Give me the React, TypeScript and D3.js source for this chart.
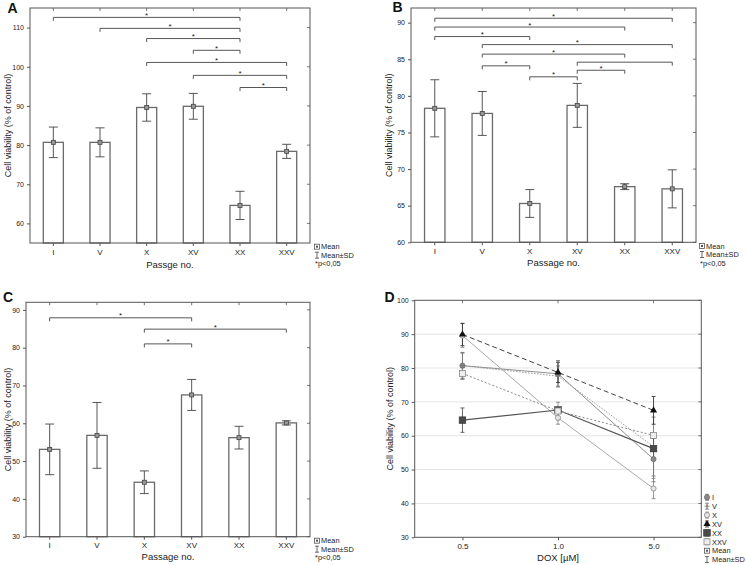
"use client"

import { useEffect, useRef } from "react"
import * as d3 from "d3"

const PASSAGES = ["I", "V", "X", "XV", "XX", "XXV"]
const DOSES = ["0.5", "1.0", "5.0"]

// A - 0.5 uM DOX
const meansA = [80.7, 80.7, 89.6, 89.9, 64.6, 78.4]
const sdsA = [3.9, 3.7, 3.5, 3.3, 3.6, 1.8]
// [from, to, bracket height, star shown]
const bracketsA: [number, number, number, boolean][] = [
  [0, 4, 112.6, true],
  [1, 4, 109.8, true],
  [2, 4, 107.2, true],
  [3, 4, 104.2, true],
  [2, 5, 101.1, true],
  [3, 5, 97.8, true],
  [4, 5, 94.7, true],
]

// B - 1.0 uM DOX
const meansB = [78.3, 77.6, 65.3, 78.7, 67.6, 67.3]
const sdsB = [3.9, 3.0, 1.9, 3.0, 0.4, 2.6]
const bracketsB: [number, number, number, boolean][] = [
  [0, 5, 90.6, true],
  [0, 4, 89.4, true],
  [0, 2, 88.1, true],
  [1, 5, 87.0, true],
  [1, 4, 85.7, true],
  [1, 2, 84.1, true],
  [3, 5, 84.6, false],
  [3, 4, 83.5, true],
  [2, 3, 82.6, true],
]

// C - 5.0 uM DOX
const meansC = [53.1, 56.8, 44.4, 67.5, 56.2, 60.1]
const sdsC = [6.7, 8.7, 3.0, 4.1, 3.0, 0.55]
const bracketsC: [number, number, number, boolean][] = [
  [0, 3, 87.9, true],
  [2, 5, 84.9, true],
  [2, 3, 81.0, true],
]

const FONT = "'Liberation Sans', Arial, sans-serif"
const INK = "#222"
const AXIS = "#555"
const LEGEND_FONT = 7.4

type Sel = d3.Selection<SVGGElement, unknown, null, undefined>

interface BarCfg {
  letter: string
  letterPos: [number, number]
  box: [number, number, number, number] // x0, y0, x1, y1
  yDomain: [number, number]
  yTicks: number[]
  means: number[]
  sds: number[]
  brackets: [number, number, number, boolean][]
  yTitleX: number
  xTitle: string
  xTitleY: number
  legendPos: [number, number]
}

function drawMeanIcon(g: Sel, x: number, y: number) {
  g.append("rect").attr("x", x - 2.5).attr("y", y - 2.5).attr("width", 5).attr("height", 5)
    .attr("fill", "#fff").attr("stroke", "#555").attr("stroke-width", 0.8)
  g.append("rect").attr("x", x - 1).attr("y", y - 1).attr("width", 2).attr("height", 2).attr("fill", "#555")
}

function drawSdIcon(g: Sel, x: number, y: number, color = "#444") {
  g.append("path")
    .attr("d", `M${x - 2},${y - 3}H${x + 2}M${x},${y - 3}V${y + 3}M${x - 2},${y + 3}H${x + 2}`)
    .attr("stroke", color).attr("stroke-width", 0.8).attr("fill", "none")
}

function drawBarPanel(svg: Sel, cfg: BarCfg) {
  const [x0, y0, x1, y1] = cfg.box
  const g = svg.append("g")
  const x = d3.scaleBand<string>().domain(PASSAGES).range([x0, x1]).paddingInner(0.57).paddingOuter(0.285)
  const y = d3.scaleLinear().domain(cfg.yDomain).range([y1, y0])
  const cx = (i: number) => (x(PASSAGES[i]) ?? 0) + x.bandwidth() / 2

  // left axis
  const ya = g.append("g").attr("transform", `translate(${x0},0)`)
    .call(d3.axisLeft(y).tickValues(cfg.yTicks).tickSize(3).tickPadding(3))
  ya.select(".domain").remove()
  ya.attr("font-size", 7).attr("font-family", FONT)
  ya.selectAll("text").attr("fill", INK)
  ya.selectAll("line").attr("stroke", AXIS)

  // bottom axis
  const xa = g.append("g").attr("transform", `translate(0,${y1})`)
    .call(d3.axisBottom(x).tickSize(3).tickPadding(3))
  xa.select(".domain").remove()
  xa.attr("font-size", 8).attr("font-family", FONT)
  xa.selectAll("text").attr("fill", INK)
  xa.selectAll("line").attr("stroke", AXIS)

  // mirrored inner ticks on top and right
  g.selectAll("line.rt").data(cfg.yTicks).join("line").attr("class", "rt")
    .attr("x1", x1 - 3).attr("x2", x1).attr("y1", d => y(d)).attr("y2", d => y(d))
    .attr("stroke", AXIS).attr("stroke-width", 0.8)
  g.selectAll("line.tt").data(PASSAGES).join("line").attr("class", "tt")
    .attr("x1", (_, i) => cx(i)).attr("x2", (_, i) => cx(i)).attr("y1", y0).attr("y2", y0 + 3)
    .attr("stroke", AXIS).attr("stroke-width", 0.8)

  // bars
  g.selectAll("rect.bar").data(cfg.means).join("rect").attr("class", "bar")
    .attr("x", (_, i) => x(PASSAGES[i]) ?? 0)
    .attr("y", d => y(d))
    .attr("width", x.bandwidth())
    .attr("height", d => y1 - y(d))
    .attr("fill", "#fff").attr("stroke", "#6a6a6a").attr("stroke-width", 1.3)

  // error bars
  const capW = 4.5
  g.selectAll("path.err").data(cfg.means).join("path").attr("class", "err")
    .attr("d", (d, i) => {
      const c = cx(i)
      const top = y(d + cfg.sds[i])
      const bot = y(d - cfg.sds[i])
      return `M${c - capW},${top}H${c + capW}M${c},${top}V${bot}M${c - capW},${bot}H${c + capW}`
    })
    .attr("stroke", "#444").attr("stroke-width", 0.9).attr("fill", "none")

  // mean markers
  g.selectAll("rect.mean").data(cfg.means).join("rect").attr("class", "mean")
    .attr("x", (_, i) => cx(i) - 2).attr("y", d => y(d) - 2)
    .attr("width", 4).attr("height", 4)
    .attr("fill", "#999").attr("stroke", "#444").attr("stroke-width", 0.8)

  // frame
  g.append("rect").attr("x", x0).attr("y", y0).attr("width", x1 - x0).attr("height", y1 - y0)
    .attr("fill", "none").attr("stroke", AXIS).attr("stroke-width", 1)

  // significance brackets
  cfg.brackets.forEach(([a, b, level, star]) => {
    const xa = cx(a)
    const xb = cx(b)
    const yl = y(level)
    g.append("path").attr("d", `M${xa},${yl + 3.5}V${yl}H${xb}V${yl + 3.5}`)
      .attr("stroke", "#444").attr("stroke-width", 0.9).attr("fill", "none")
    if (star) {
      g.append("text").attr("x", (xa + xb) / 2).attr("y", yl + 0.5)
        .attr("text-anchor", "middle").attr("font-size", 8).attr("font-family", FONT)
        .attr("fill", INK).text("*")
    }
  })

  // titles
  g.append("text").attr("x", cfg.letterPos[0]).attr("y", cfg.letterPos[1])
    .attr("font-size", 14).attr("font-weight", "bold").attr("font-family", FONT).attr("fill", "#111")
    .text(cfg.letter)
  g.append("text")
    .attr("transform", `translate(${cfg.yTitleX},${(y0 + y1) / 2}) rotate(-90)`)
    .attr("text-anchor", "middle").attr("font-size", 9).attr("font-family", FONT).attr("fill", INK)
    .text("Cell viability (% of control)")
  g.append("text").attr("x", (x0 + x1) / 2).attr("y", cfg.xTitleY)
    .attr("text-anchor", "middle").attr("font-size", 9.5).attr("font-family", FONT).attr("fill", INK)
    .text(cfg.xTitle)

  // legend
  const [lx, ly] = cfg.legendPos
  const lg = g.append("g").attr("font-size", LEGEND_FONT).attr("font-family", FONT).attr("fill", INK)
  drawMeanIcon(lg, lx + 2, ly)
  lg.append("text").attr("x", lx + 6).attr("y", ly + 2.7).text("Mean")
  drawSdIcon(lg, lx + 2, ly + 8.5)
  lg.append("text").attr("x", lx + 6).attr("y", ly + 11.2).text("Mean±SD")
  lg.append("text").attr("x", lx).attr("y", ly + 19.6).text("*p<0,05")
}

type MarkerKind = "circleFill" | "plus" | "circleOpen" | "triangle" | "squareFill" | "squareOpen"

function drawMarker(g: Sel, kind: MarkerKind, x: number, y: number) {
  if (kind === "circleFill") {
    g.append("circle").attr("cx", x).attr("cy", y).attr("r", 2.6).attr("fill", "#8a8a8a").attr("stroke", "#666").attr("stroke-width", 0.7)
  } else if (kind === "circleOpen") {
    g.append("circle").attr("cx", x).attr("cy", y).attr("r", 2.6).attr("fill", "#e6e6e6").attr("stroke", "#888").attr("stroke-width", 0.8)
  } else if (kind === "plus") {
    g.append("path").attr("d", `M${x - 2.5},${y}H${x + 2.5}M${x},${y - 2.5}V${y + 2.5}`).attr("stroke", "#777").attr("stroke-width", 0.9)
  } else if (kind === "triangle") {
    g.append("path").attr("d", d3.symbol(d3.symbolTriangle, 22)()).attr("transform", `translate(${x},${y})`).attr("fill", "#111")
  } else if (kind === "squareFill") {
    g.append("rect").attr("x", x - 3.3).attr("y", y - 3.3).attr("width", 6.6).attr("height", 6.6).attr("fill", "#4a4a4a").attr("stroke", "#333").attr("stroke-width", 0.6)
  } else {
    g.append("rect").attr("x", x - 3).attr("y", y - 3).attr("width", 6).attr("height", 6).attr("fill", "#eee").attr("stroke", "#888").attr("stroke-width", 0.8)
  }
}

const SERIES_STYLE: { stroke: string; dash: string | null; width: number; marker: MarkerKind; err: string }[] = [
  { stroke: "#8f8f8f", dash: null, width: 1, marker: "circleFill", err: "#777" },
  { stroke: "#9a9a9a", dash: "1.5,1.5", width: 1, marker: "plus", err: "#777" },
  { stroke: "#a8a8a8", dash: null, width: 1, marker: "circleOpen", err: "#888" },
  { stroke: "#444", dash: "5,3", width: 1, marker: "triangle", err: "#333" },
  { stroke: "#555", dash: null, width: 1.2, marker: "squareFill", err: "#555" },
  { stroke: "#8a8a8a", dash: "2,2", width: 1, marker: "squareOpen", err: "#888" },
]

function drawLinePanel(svg: Sel) {
  const [x0, y0, x1, y1] = [414.7, 300.3, 701.3, 537.3]
  const g = svg.append("g")
  const x = d3.scalePoint<string>().domain(DOSES).range([x0, x1]).padding(0.5)
  const y = d3.scaleLinear().domain([30, 100]).range([y1, y0])
  const yTicks = d3.range(30, 101, 10)

  // grid
  g.selectAll("line.grid").data(yTicks.filter(t => t > 30 && t < 100)).join("line").attr("class", "grid")
    .attr("x1", x0).attr("x2", x1).attr("y1", d => y(d)).attr("y2", d => y(d))
    .attr("stroke", "#dedede").attr("stroke-width", 0.8)

  const ya = g.append("g").attr("transform", `translate(${x0},0)`)
    .call(d3.axisLeft(y).tickValues(yTicks).tickSize(3).tickPadding(3))
  ya.select(".domain").remove()
  ya.attr("font-size", 7).attr("font-family", FONT)
  ya.selectAll("text").attr("fill", INK)
  ya.selectAll("line").attr("stroke", AXIS)

  const xa = g.append("g").attr("transform", `translate(0,${y1})`)
    .call(d3.axisBottom(x).tickSize(3).tickPadding(3))
  xa.select(".domain").remove()
  xa.attr("font-size", 8).attr("font-family", FONT)
  xa.selectAll("text").attr("fill", INK)
  xa.selectAll("line").attr("stroke", AXIS)

  g.selectAll("line.rt").data(yTicks).join("line").attr("class", "rt")
    .attr("x1", x1 - 3).attr("x2", x1).attr("y1", d => y(d)).attr("y2", d => y(d))
    .attr("stroke", AXIS).attr("stroke-width", 0.8)
  g.selectAll("line.tt").data(DOSES).join("line").attr("class", "tt")
    .attr("x1", d => x(d) ?? 0).attr("x2", d => x(d) ?? 0).attr("y1", y0).attr("y2", y0 + 3)
    .attr("stroke", AXIS).attr("stroke-width", 0.8)

  // one series per passage, built from the three dose panels
  const series = PASSAGES.map((name, i) => ({
    name,
    means: [meansA[i], meansB[i], meansC[i]],
    sds: [sdsA[i], sdsB[i], sdsC[i]],
    style: SERIES_STYLE[i],
  }))

  const line = d3.line<number>().x((_, i) => x(DOSES[i]) ?? 0).y(d => y(d))

  series.forEach(s => {
    g.append("path").attr("d", line(s.means)).attr("fill", "none")
      .attr("stroke", s.style.stroke).attr("stroke-width", s.style.width)
      .attr("stroke-dasharray", s.style.dash)
  })

  series.forEach(s => {
    s.means.forEach((m, i) => {
      const c = x(DOSES[i]) ?? 0
      const top = y(m + s.sds[i])
      const bot = y(m - s.sds[i])
      g.append("path").attr("d", `M${c - 2},${top}H${c + 2}M${c},${top}V${bot}M${c - 2},${bot}H${c + 2}`)
        .attr("stroke", s.style.err).attr("stroke-width", 0.9).attr("fill", "none")
    })
  })

  series.forEach(s => {
    s.means.forEach((m, i) => drawMarker(g, s.style.marker, x(DOSES[i]) ?? 0, y(m)))
  })

  g.append("rect").attr("x", x0).attr("y", y0).attr("width", x1 - x0).attr("height", y1 - y0)
    .attr("fill", "none").attr("stroke", AXIS).attr("stroke-width", 1)

  g.append("text").attr("x", 384.5).attr("y", 301.5)
    .attr("font-size", 14).attr("font-weight", "bold").attr("font-family", FONT).attr("fill", "#111")
    .text("D")
  g.append("text")
    .attr("transform", `translate(393,${(y0 + y1) / 2}) rotate(-90)`)
    .attr("text-anchor", "middle").attr("font-size", 9).attr("font-family", FONT).attr("fill", INK)
    .text("Cell viability (% of control)")
  g.append("text").attr("x", (x0 + x1) / 2).attr("y", 561)
    .attr("text-anchor", "middle").attr("font-size", 9.5).attr("font-family", FONT).attr("fill", INK)
    .text("DOX [µM]")

  // legend
  const lg = g.append("g").attr("font-size", LEGEND_FONT).attr("font-family", FONT).attr("fill", INK)
  const lx = 707
  const step = 8.9
  series.forEach((s, i) => {
    const cy = 497.3 + i * step
    drawSdIcon(lg, lx, cy, s.style.err)
    drawMarker(lg, s.style.marker, lx, cy)
    lg.append("text").attr("x", lx + 5).attr("y", cy + 2.7).text(s.name)
  })
  const my = 497.3 + 6 * step
  drawMeanIcon(lg, lx, my)
  lg.append("text").attr("x", lx + 5).attr("y", my + 2.7).text("Mean")
  drawSdIcon(lg, lx, my + step)
  lg.append("text").attr("x", lx + 5).attr("y", my + step + 2.7).text("Mean±SD")
}

export default function App() {
  const svgRef = useRef<SVGSVGElement>(null)

  useEffect(() => {
    if (!svgRef.current) return
    const root = d3.select(svgRef.current)
    root.selectAll("*").remove()
    const svg = root.append("g") as unknown as Sel

    drawBarPanel(svg, {
      letter: "A",
      letterPos: [7.5, 13],
      box: [30, 8, 310, 243],
      yDomain: [55, 115],
      yTicks: d3.range(60, 111, 10),
      means: meansA,
      sds: sdsA,
      brackets: bracketsA,
      yTitleX: 10.5,
      xTitle: "Passge no.",
      xTitleY: 268,
      legendPos: [315, 246.7],
    })

    drawBarPanel(svg, {
      letter: "B",
      letterPos: [392.5, 12],
      box: [411, 8, 696, 242.3],
      yDomain: [60, 92],
      yTicks: d3.range(60, 91, 5),
      means: meansB,
      sds: sdsB,
      brackets: bracketsB,
      yTitleX: 392,
      xTitle: "Passage no.",
      xTitleY: 266,
      legendPos: [700, 246],
    })

    drawBarPanel(svg, {
      letter: "C",
      letterPos: [3, 301.5],
      box: [26, 302.3, 310, 536.7],
      yDomain: [30, 92],
      yTicks: d3.range(30, 91, 10),
      means: meansC,
      sds: sdsC,
      brackets: bracketsC,
      yTitleX: 10.5,
      xTitle: "Passage no.",
      xTitleY: 560,
      legendPos: [315, 540.7],
    })

    drawLinePanel(svg)
  }, [])

  return (
    <svg
      ref={svgRef}
      width={746}
      height={565}
      style={{ position: "absolute", left: 0, top: 0, background: "#fff" }}
    />
  )
}
